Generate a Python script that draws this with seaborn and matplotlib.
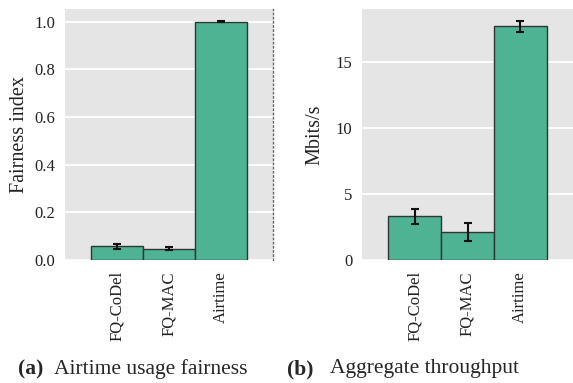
import matplotlib
matplotlib.use("Agg")
import matplotlib.pyplot as plt
import seaborn as sns
import pandas as pd

schemes = ["FQ-CoDel", "FQ-MAC", "Airtime"]
fairness = [0.057, 0.048, 1.0]
fairness_err = [0.011, 0.005, 0.001]
throughput = [3.3, 2.12, 17.7]
throughput_err = [0.55, 0.65, 0.4]

sns.set_theme(style="darkgrid")
plt.rcParams["font.family"] = ["Liberation Serif", "DejaVu Serif"]
plt.rcParams["axes.facecolor"] = "#e5e5e5"

BAR = "#4db393"
EDGE = "#333333"

fig = plt.figure(figsize=(5.73, 3.83), dpi=100)
ax1 = fig.add_axes([0.1134, 0.321, 0.363, 0.655])
ax2 = fig.add_axes([0.6318, 0.321, 0.3682, 0.655])


def panel(ax, values, errs, ylabel, ylim, ticks, fmt, labelpad):
    df = pd.DataFrame({"scheme": schemes, "value": values})
    sns.barplot(data=df, x="scheme", y="value", ax=ax, color=BAR,
                width=1.0, errorbar=None, edgecolor=EDGE, linewidth=1.0,
                saturation=1.0)
    ax.errorbar(range(len(schemes)), values, yerr=errs, fmt="none",
                ecolor="#111111", elinewidth=1.5, capsize=3, capthick=1.5)
    ax.set_xlim(-1, 3)
    ax.set_ylim(*ylim)
    ax.set_yticks(ticks)
    ax.set_yticklabels([fmt(t) for t in ticks])
    ax.set_xlabel("")
    ax.set_ylabel(ylabel, fontsize=14.5, labelpad=labelpad, color="#222222")
    ax.grid(axis="x", visible=False)
    ax.grid(axis="y", color="white", linewidth=1.3)
    ax.tick_params(axis="both", length=0, labelsize=12, colors="#222222")
    ax.tick_params(axis="y", pad=7)
    ax.tick_params(axis="x", pad=8)
    plt.setp(ax.get_xticklabels(), rotation=90)
    for s in ax.spines.values():
        s.set_visible(False)


panel(ax1, fairness, fairness_err, "Fairness index", (0, 1.052),
      [0.0, 0.2, 0.4, 0.6, 0.8, 1.0], lambda t: f"{t:.1f}", 4)
panel(ax2, throughput, throughput_err, "Mbits/s", (0, 19.0),
      [0, 5, 10, 15], lambda t: f"{t:d}", 8)

# dotted separator on the right edge of the first panel
ax1.spines["right"].set_visible(True)
ax1.spines["right"].set_linestyle((0, (1, 2)))
ax1.spines["right"].set_color("#666666")
ax1.spines["right"].set_linewidth(1.0)

# sub-figure captions
cap_y = 1 - 369 / 383
fig.text(18 / 573, cap_y, "(a)", fontsize=15.5, fontweight="bold", va="center")
fig.text(54 / 573, cap_y, "Airtime usage fairness", fontsize=15.5, va="center")
fig.text(287 / 573, cap_y, "(b)", fontsize=15.5, fontweight="bold", va="center")
fig.text(330 / 573, cap_y, "Aggregate throughput", fontsize=15.5, va="center")

fig.savefig("out.png", dpi=100)
